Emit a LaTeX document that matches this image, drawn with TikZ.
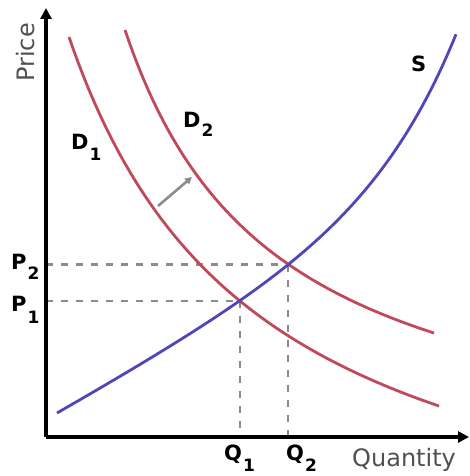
\documentclass[tikz,border=0pt]{standalone}
\usepackage{fontspec}
\setmainfont{DejaVu Sans}
\usetikzlibrary{arrows.meta}
\definecolor{dred}{HTML}{BF4A5C}
\definecolor{sblue}{HTML}{4F46B8}
\definecolor{dgray}{HTML}{8C8C8C}
\definecolor{tgray}{HTML}{505050}
\tikzset{
  axis/.style={line width=3.2pt,-{Triangle[length=11pt,width=11pt]}},
  demand/.style={dred,line width=2.8pt},
  supply/.style={sblue,line width=2.8pt},
  guide/.style={dgray,line width=2.8pt,dash pattern=on 7pt off 8pt},
  lbl/.style={font=\fontsize{21}{21}\selectfont\bfseries,inner sep=0pt},
  axlbl/.style={font=\fontsize{24}{24}\selectfont,text=tgray,inner sep=0pt},
  shiftarrow/.style={dgray,line width=2.6pt,-{Triangle[length=7pt,width=7pt]}}
}
\newcommand{\subnum}[2]{\hspace{1pt}\raisebox{#1}{\fontsize{17}{17}\selectfont #2}}
\begin{document}
\begin{tikzpicture}[x=1pt,y=-1pt]
\useasboundingbox (0,0) rectangle (469,476);
% named points
\coordinate (O) at (46,437);
\coordinate (ytop) at (46,8);
\coordinate (xend) at (469,437);
\coordinate (E1) at (240,301);
\coordinate (E2) at (288,264.5);
\coordinate (p1) at (46,301);
\coordinate (p2) at (46,264.5);
\coordinate (q1) at (240,437);
\coordinate (q2) at (288,437);
% guides
\draw[guide] (p2) -- (E2);
\draw[guide] (p1) -- (E1);
\draw[guide] (E1) -- (q1);
\draw[guide] (E2) -- (q2);
% demand curves
\draw[demand] plot[domain=69:439,samples=80] (\x,{597.6-1076.9/((\x+123.1)/100)});
\draw[demand] plot[domain=125:434,samples=80] (\x,{481.7-684.81/((\x+26.6)/100)});
% supply
\draw[supply] plot[domain=57:456,samples=100] (\x,{413-0.56*(\x-57)-1.2*(exp(0.0122*(\x-57))-1)});
% axes
\draw[axis] (O) -- (ytop);
\draw[axis] (O) -- (xend);
% shift arrow
\coordinate (a1) at (158,206);
\coordinate (a2) at (192,177);
\draw[shiftarrow] (a1) -- (a2);
% labels
\node[lbl,anchor=base west] (d1) at (71,149) {D\subnum{-11pt}{1}};
\node[lbl,anchor=base west] (d2) at (183,128) {D\subnum{-9pt}{2}};
\node[lbl,anchor=base west] (s) at (411,72) {S};
\node[lbl,anchor=base west] (pl2) at (11,269) {P\subnum{-10pt}{2}};
\node[lbl,anchor=base west] (pl1) at (11,311) {P\subnum{-12pt}{1}};
\node[lbl,anchor=base west] (ql1) at (224,460) {Q\subnum{-11pt}{1}};
\node[lbl,anchor=base west] (ql2) at (286,460) {Q\subnum{-11pt}{2}};
\node[axlbl,anchor=base west] (qty) at (352,466) {Quantity};
\node[axlbl,rotate=90,anchor=base west] (pr) at (34,82) {Price};
\end{tikzpicture}
\end{document}
